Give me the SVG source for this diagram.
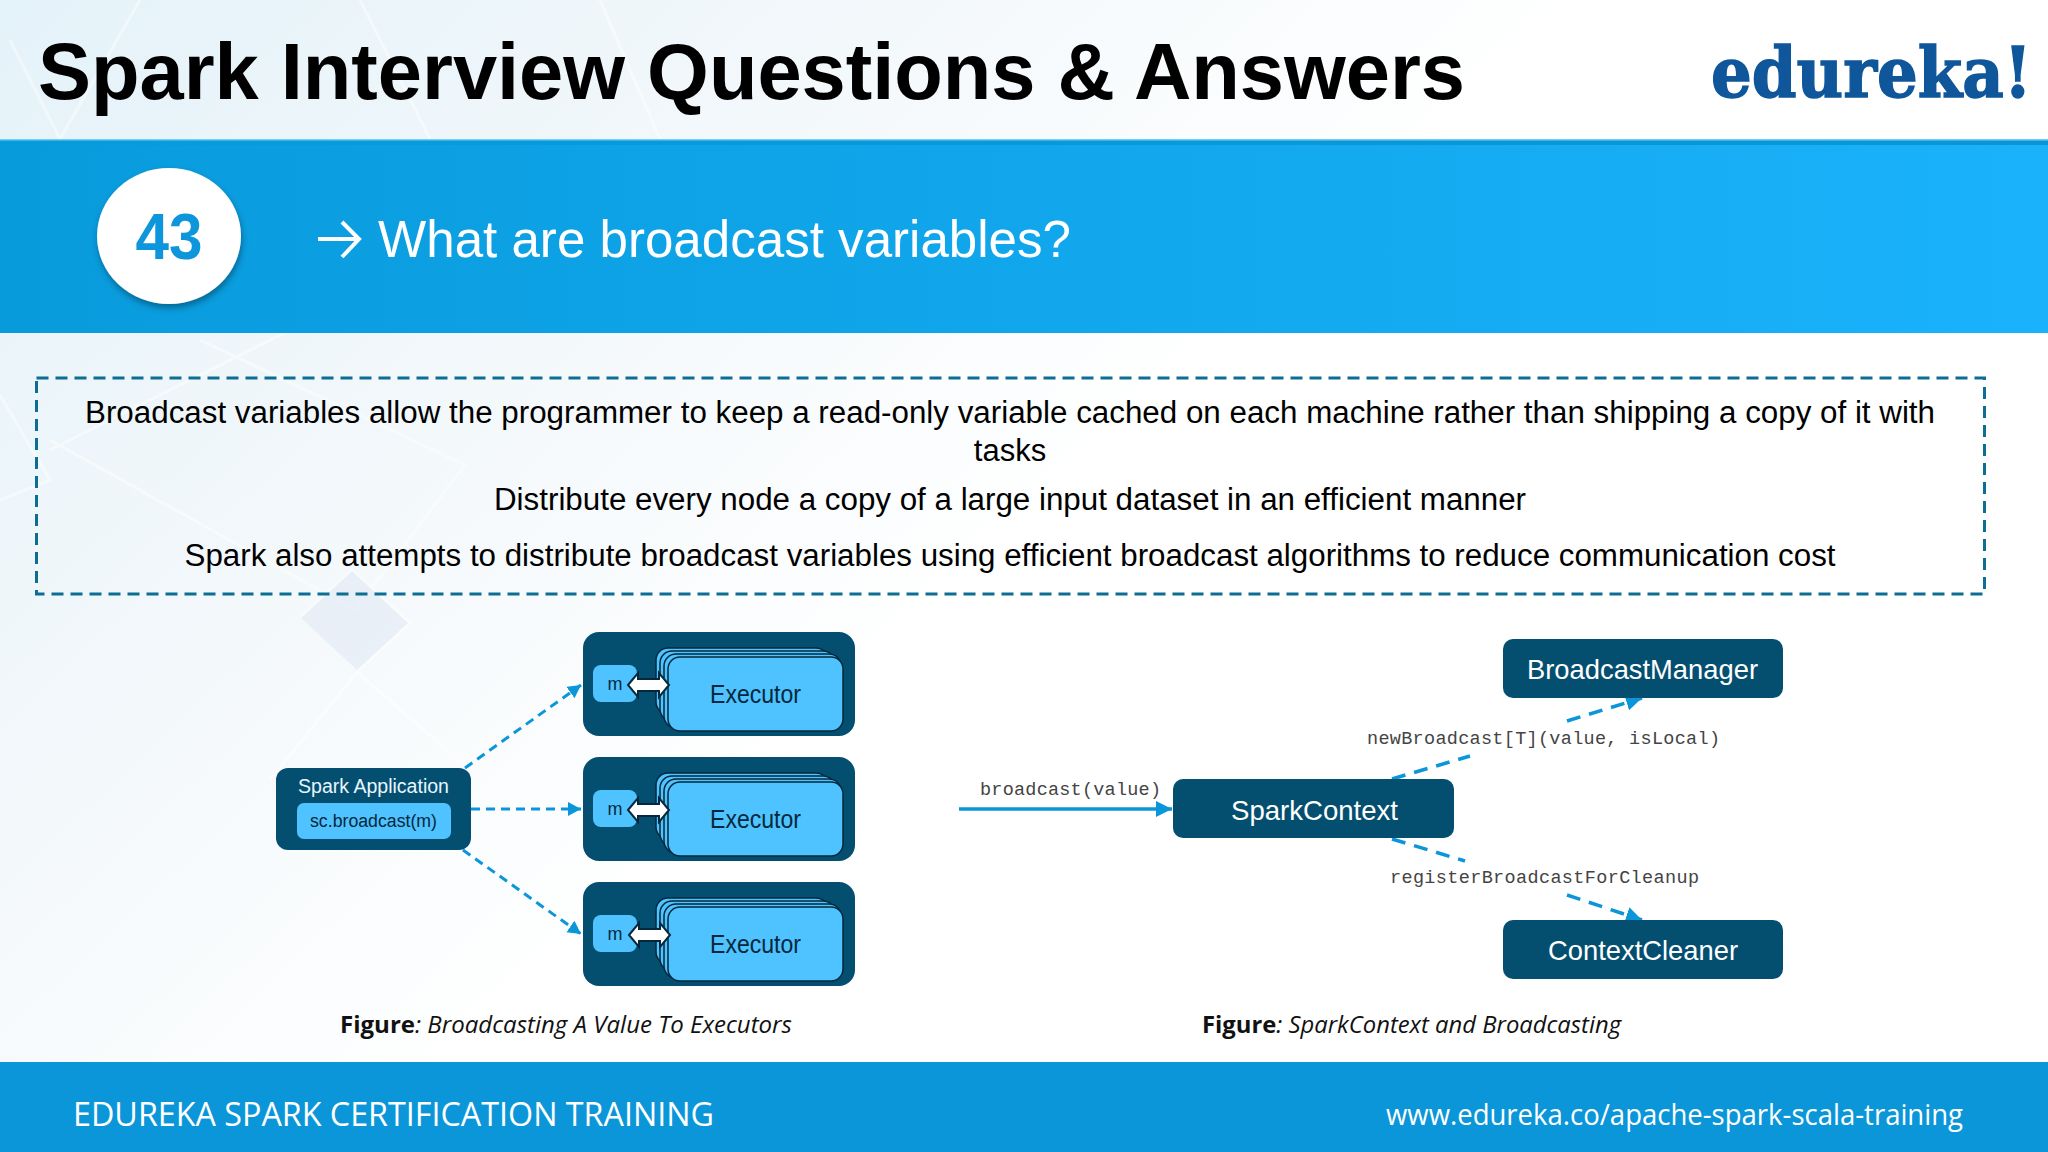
<svg xmlns="http://www.w3.org/2000/svg" width="2048" height="1152" viewBox="0 0 2048 1152">
<defs>
<linearGradient id="bg" x1="0" y1="0" x2="1" y2="0.6"><stop offset="0" stop-color="#e4f2f9"/><stop offset="0.32" stop-color="#f3f8fb"/><stop offset="0.58" stop-color="#ffffff"/></linearGradient>
<linearGradient id="band" x1="0" y1="0" x2="1" y2="0"><stop offset="0" stop-color="#089bdc"/><stop offset="1" stop-color="#1ab2fb"/></linearGradient>
<linearGradient id="strip" x1="0" y1="0" x2="1" y2="0"><stop offset="0" stop-color="#089bdc"/><stop offset="1" stop-color="#0a96d6"/></linearGradient>
<filter id="sh" x="-20%" y="-20%" width="140%" height="140%"><feDropShadow dx="1" dy="4" stdDeviation="3" flood-color="#063a55" flood-opacity="0.55"/></filter>
<marker id="ah" markerUnits="userSpaceOnUse" markerWidth="16" markerHeight="16" refX="13" refY="7" orient="auto"><path d="M0 0L13 7L0 14Z" fill="#0b96d9"/></marker>
<marker id="ahb" markerUnits="userSpaceOnUse" markerWidth="20" markerHeight="20" refX="16" refY="8" orient="auto"><path d="M0 0L16 8L0 16Z" fill="#0b96d9"/></marker>
<style>
text{font-family:"Liberation Sans",Arial,sans-serif}
.body{font-size:31px;fill:#000;text-anchor:middle}
.outer{fill:#044f70}
.lt{fill:#4fc3ff}
.st{fill:#4fc3ff;stroke:#05283c;stroke-width:1.5}
.dbl{fill:#fff;stroke:#05283c;stroke-width:2}
.m{font-size:18px;fill:#05283c;text-anchor:middle}
.ex{font-size:25px;fill:#05283c}
.nd{font-size:28px;fill:#fff}
.mono{font-family:"Liberation Mono",monospace;font-size:18.5px;fill:#444}
.cap{font-family:"Open Sans",sans-serif;font-size:24px;fill:#111}
.cap .b{font-weight:700}.cap .i{font-style:italic}
.d{fill:none;stroke:#0b96d9;stroke-width:3;stroke-dasharray:9 6}
.dn{fill:none;stroke:#0b96d9;stroke-width:3.500;stroke-dasharray:14 9}
</style>
</defs>
<rect width="2048" height="1152" fill="url(#bg)"/>
<g fill="none" stroke="#ffffff" stroke-width="3" opacity="0.45">
<path d="M0 395L50 480L0 500"/><path d="M50 450L290 330"/><path d="M200 340L465 465L355 610L50 440"/><path d="M300 618L352 570L410 623L357 672L270 780"/><path d="M357 672L470 770"/><path d="M10 40L60 139"/><path d="M140 0L60 139"/><path d="M360 0L430 139"/><path d="M600 0L660 139"/>
</g>
<path d="M301 618L352 571L408 623L357 670Z" fill="#dfe8f2" opacity="0.55"/>
<g id="title"><text x="38" y="99" font-size="80" font-weight="700" fill="#000" textLength="1427" lengthAdjust="spacingAndGlyphs">Spark Interview Questions &amp; Answers</text></g>
<g id="logo"><text transform="translate(1711 97) scale(0.916 1)" font-size="70" font-weight="700" fill="#0f569b" stroke="#0f569b" stroke-width="1.500" style="font-family:'DejaVu Serif',serif">edureka!</text></g>
<g id="band-group">
<rect y="139" width="2048" height="194" fill="url(#band)"/>
<rect y="140" width="2048" height="5" fill="url(#strip)"/>
<rect y="139" width="2048" height="1.500" fill="#6fd0f5"/>
<ellipse cx="169" cy="236" rx="72" ry="68" fill="#fff" filter="url(#sh)"/>
<text x="169" y="259" font-size="64" font-weight="700" fill="#0e96dc" text-anchor="middle" textLength="67" lengthAdjust="spacingAndGlyphs">43</text>
<path d="M318 239H358M342 222L359 239L342 257" fill="none" stroke="#fff" stroke-width="4"/>
<text x="378" y="257" font-size="52" fill="#fff" textLength="693" lengthAdjust="spacingAndGlyphs">What are broadcast variables?</text>
</g>
<g id="definition">
<rect x="36.500" y="378" width="1948" height="216" fill="none" stroke="#0b6e92" stroke-width="3" stroke-dasharray="12 7"/>
<text class="body" x="1010" y="423" textLength="1850" lengthAdjust="spacingAndGlyphs">Broadcast variables allow the programmer to keep a read-only variable cached on each machine rather than shipping a copy of it with</text>
<text class="body" x="1010" y="461">tasks</text>
<text class="body" x="1010" y="510" textLength="1032" lengthAdjust="spacingAndGlyphs">Distribute every node a copy of a large input dataset in an efficient manner</text>
<text class="body" x="1010" y="566" textLength="1651" lengthAdjust="spacingAndGlyphs">Spark also attempts to distribute broadcast variables using efficient broadcast algorithms to reduce communication cost</text>
</g>
<g id="connectors">
<path class="d" d="M465 768L581 685" marker-end="url(#ah)"/>
<path class="d" d="M471 809H581" marker-end="url(#ah)"/>
<path class="d" d="M463 850L581 934" marker-end="url(#ah)"/>
<path d="M959 809H1172" fill="none" stroke="#0b96d9" stroke-width="3.500" marker-end="url(#ahb)"/>
<path class="dn" d="M1392 779L1470 756"/>
<path class="dn" d="M1567 721L1642 698" marker-end="url(#ahb)"/>
<path class="dn" d="M1392 839L1465 861"/>
<path class="dn" d="M1567 895L1642 920" marker-end="url(#ahb)"/>
</g>
<g id="spark-application">
<rect class="outer" x="276" y="768" width="195" height="82" rx="12"/>
<text x="298" y="793" font-size="19.500" fill="#e8f6ff" textLength="151" lengthAdjust="spacingAndGlyphs">Spark Application</text>
<rect class="lt" x="297" y="803" width="154" height="36" rx="7"/>
<text x="310" y="827" font-size="18" fill="#05283c" textLength="127" lengthAdjust="spacingAndGlyphs">sc.broadcast(m)</text>
</g>
<g id="executor-1">
<rect class="outer" x="583" y="632" width="272" height="104" rx="16"/>
<rect class="st" x="656" y="648" width="172" height="66" rx="12"/><rect class="st" x="660" y="651" width="175" height="70" rx="12"/><rect class="st" x="664" y="654" width="177" height="74" rx="12"/><rect class="st" x="668" y="657" width="175" height="74" rx="12"/>
<rect class="lt" x="593" y="665" width="44" height="37" rx="8"/>
<text class="m" x="615" y="690">m</text>
<path class="dbl" d="M628 685L638 673V679H659V673L669 685L659 697V691H638V697Z"/>
<text class="ex" x="710" y="703" textLength="91" lengthAdjust="spacingAndGlyphs">Executor</text>
</g>
<g id="executor-2">
<rect class="outer" x="583" y="757" width="272" height="104" rx="16"/>
<rect class="st" x="656" y="773" width="172" height="66" rx="12"/><rect class="st" x="660" y="776" width="175" height="70" rx="12"/><rect class="st" x="664" y="779" width="177" height="74" rx="12"/><rect class="st" x="668" y="782" width="175" height="74" rx="12"/>
<rect class="lt" x="593" y="790" width="44" height="37" rx="8"/>
<text class="m" x="615" y="815">m</text>
<path class="dbl" d="M628 810L638 798V804H659V798L669 810L659 822V816H638V822Z"/>
<text class="ex" x="710" y="828" textLength="91" lengthAdjust="spacingAndGlyphs">Executor</text>
</g>
<g id="executor-3">
<rect class="outer" x="583" y="882" width="272" height="104" rx="16"/>
<rect class="st" x="656" y="898" width="172" height="66" rx="12"/><rect class="st" x="660" y="901" width="175" height="70" rx="12"/><rect class="st" x="664" y="904" width="177" height="74" rx="12"/><rect class="st" x="668" y="907" width="175" height="74" rx="12"/>
<rect class="lt" x="593" y="915" width="44" height="37" rx="8"/>
<text class="m" x="615" y="940">m</text>
<path class="dbl" d="M629 935L639 923V929H660V923L670 935L660 947V941H639V947Z"/>
<text class="ex" x="710" y="953" textLength="91" lengthAdjust="spacingAndGlyphs">Executor</text>
</g>
<g id="broadcast-manager">
<rect class="outer" x="1503" y="639" width="280" height="59" rx="10"/>
<text class="nd" x="1527" y="679" textLength="231" lengthAdjust="spacingAndGlyphs">BroadcastManager</text>
</g>
<g id="spark-context">
<rect class="outer" x="1173" y="779" width="281" height="59" rx="10"/>
<text class="nd" x="1231" y="820" textLength="167" lengthAdjust="spacingAndGlyphs">SparkContext</text>
</g>
<g id="context-cleaner">
<rect class="outer" x="1503" y="920" width="280" height="59" rx="10"/>
<text class="nd" x="1548" y="960" textLength="190" lengthAdjust="spacingAndGlyphs">ContextCleaner</text>
</g>
<g id="labels">
<text class="mono" x="980" y="795" textLength="181">broadcast(value)</text>
<text class="mono" x="1367" y="744" textLength="353">newBroadcast[T](value, isLocal)</text>
<text class="mono" x="1390" y="883" textLength="309">registerBroadcastForCleanup</text>
<text class="cap" x="340" y="1033" textLength="452" lengthAdjust="spacingAndGlyphs"><tspan class="b">Figure</tspan><tspan class="i">: Broadcasting A Value To Executors</tspan></text>
<text class="cap" x="1202" y="1033" textLength="419" lengthAdjust="spacingAndGlyphs"><tspan class="b">Figure</tspan><tspan class="i">: SparkContext and Broadcasting</tspan></text>
</g>
<g id="footer">
<rect y="1062" width="2048" height="90" fill="#0b96d9"/>
<text x="73" y="1126" font-size="32" fill="#fff" style="font-family:'Open Sans',sans-serif" textLength="641" lengthAdjust="spacingAndGlyphs">EDUREKA SPARK CERTIFICATION TRAINING</text>
<text x="1386" y="1125" font-size="29" fill="#fff" style="font-family:'Open Sans',sans-serif" textLength="577" lengthAdjust="spacingAndGlyphs">www.edureka.co/apache-spark-scala-training</text>
</g>
</svg>
